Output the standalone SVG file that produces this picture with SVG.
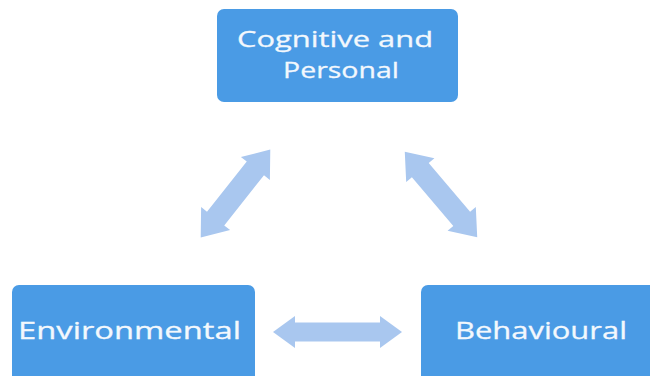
<svg xmlns="http://www.w3.org/2000/svg" width="650" height="376" viewBox="0 0 650 376">
<style>
.box{fill:#4a9be5;}
.lbl{font-family:"Open Sans","DejaVu Sans",sans-serif;font-size:24px;font-weight:400;fill:#f3f8fd;stroke:#f3f8fd;stroke-width:0.3;}
.top{font-size:22.5px;}
.arr{fill:#a9c7ef;}
</style>
<rect width="650" height="376" fill="#ffffff"/>
<g id="connectors">
<path class="arr" transform="translate(337.5,332)" d="M -64.5 0 L -42.5 -16 L -42.5 -9.5 L 42.5 -9.5 L 42.5 -16 L 64.5 0 L 42.5 16 L 42.5 9.5 L -42.5 9.5 L -42.5 16 Z"/>
<path class="arr" transform="translate(235.5,193.5) rotate(-51.6)" d="M -56 0 L -32 -18.5 L -32 -11 L 32 -11 L 32 -18.5 L 56 0 L 32 18.5 L 32 11 L -32 11 L -32 18.5 Z"/>
<path class="arr" transform="translate(441,194.5) rotate(49.7)" d="M -56 0 L -32 -18.5 L -32 -11 L 32 -11 L 32 -18.5 L 56 0 L 32 18.5 L 32 11 L -32 11 L -32 18.5 Z"/>
</g>
<g id="node-cognitive">
<rect class="box" x="217" y="9" width="241" height="93" rx="7"/>
<text class="lbl top" transform="translate(237,47) scale(1.3,1)" textLength="150.8" lengthAdjust="spacingAndGlyphs">Cognitive and</text>
<text class="lbl top" transform="translate(283,78) scale(1.3,1)" textLength="89.2" lengthAdjust="spacingAndGlyphs">Personal</text>
</g>
<g id="node-environmental">
<rect class="box" x="12" y="285" width="243" height="110" rx="7"/>
<text class="lbl" transform="translate(18,339) scale(1.3,1)" textLength="171.5" lengthAdjust="spacingAndGlyphs">Environmental</text>
</g>
<g id="node-behavioural">
<rect class="box" x="421" y="285" width="250" height="110" rx="7"/>
<text class="lbl" transform="translate(455,339) scale(1.3,1)" textLength="132.3" lengthAdjust="spacingAndGlyphs">Behavioural</text>
</g>
</svg>
